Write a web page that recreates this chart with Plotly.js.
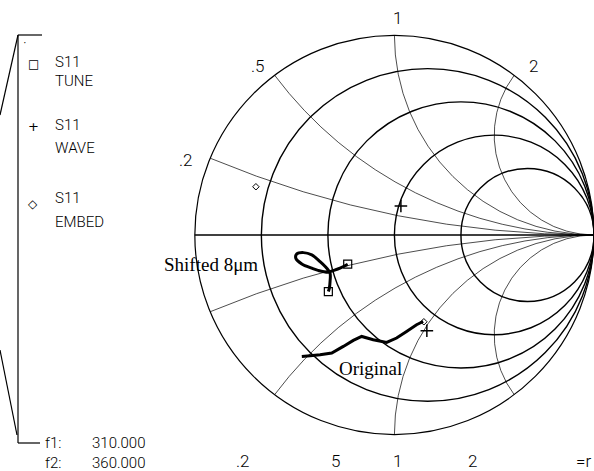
<!DOCTYPE html>
<html>
<head>
<meta charset="utf-8">
<script src="https://cdn.plot.ly/plotly-3.0.1.min.js"></script>
<style>html,body{margin:0;padding:0;background:#fff;}#chart{width:594px;height:471px;}</style>
</head>
<body>
<div id="chart"></div>
<script>
// Reflection coefficient (Gamma) values
const shiftedRe = [-0.234, -0.2725, -0.306, -0.331, -0.3825, -0.414, -0.464, -0.494, -0.489, -0.456, -0.414, -0.3725, -0.339, -0.3225, -0.3225, -0.326, -0.331];
const shiftedIm = [-0.1465, -0.1665, -0.1785, -0.1865, -0.1775, -0.1665, -0.145, -0.1165, -0.095, -0.0885, -0.10, -0.1335, -0.1665, -0.1915, -0.2335, -0.2665, -0.2835];
const originalRe = [-0.464, -0.4225, -0.3725, -0.314, -0.256, -0.206, -0.164, -0.106, -0.039, 0.011, 0.061, 0.111, 0.144];
const originalIm = [-0.6085, -0.605, -0.60, -0.5915, -0.5585, -0.5285, -0.5085, -0.525, -0.5385, -0.5165, -0.4835, -0.45, -0.4335];
const tuneRe = [-0.234, -0.331];
const tuneIm = [-0.1465, -0.2835];
const waveRe = [0.0325, 0.1625];
const waveIm = [0.145, -0.48];
const embedRe = [-0.694, 0.1475];
const embedIm = [0.2415, -0.435];
const realGridVals = [0.2, 0.5, 1, 2];
const imagGridVals = [-2, -1, -0.5, -0.2, 0.2, 0.5, 1, 2];
const topLabels = ['.2', '.5', '1', '2'];
const bottomLabels = ['.2', '5', '1', '2', '=r'];
const legendNames = [['S11', 'TUNE'], ['S11', 'WAVE'], ['S11', 'EMBED']];
const freqNames = ['f1:', 'f2:'];
const freqValues = ['310.000', '360.000'];

function toZ(re, im) {
  const r = [], x = [];
  for (let i = 0; i < re.length; i++) {
    const a = re[i], b = im[i];
    const d = (1 - a) * (1 - a) + b * b;
    r.push((1 - a * a - b * b) / d);
    x.push(2 * b / d);
  }
  return {real: r, imag: x};
}

const zs = toZ(shiftedRe, shiftedIm);
const zo = toZ(originalRe, originalIm);
const zt = toZ(tuneRe, tuneIm);
const zw = toZ(waveRe, waveIm);
const ze = toZ(embedRe, embedIm);

const data = [
  {type: 'scattersmith', mode: 'lines', real: zs.real, imag: zs.imag, line: {color: '#000', width: 3, shape: 'spline'}},
  {type: 'scattersmith', mode: 'lines', real: zo.real, imag: zo.imag, line: {color: '#000', width: 3}},
  {type: 'scattersmith', mode: 'markers', real: zt.real, imag: zt.imag, marker: {symbol: 'square-open', size: 8, color: '#000', line: {width: 1.2}}},
  {type: 'scattersmith', mode: 'markers', real: zw.real, imag: zw.imag, marker: {symbol: 'cross-thin-open', size: 9, color: '#000', line: {width: 1.5}}},
  {type: 'scattersmith', mode: 'markers', real: ze.real, imag: ze.imag, marker: {symbol: 'diamond-open', size: 5, color: '#000', line: {width: 1}}}
];

const W = 594, H = 471;
const px = x => x / W, py = y => 1 - y / H;
const plotFont = {family: 'Roboto, sans-serif', size: 15, color: '#000', weight: 300};
const tickFont = {family: 'Roboto, sans-serif', size: 17, color: '#000', weight: 300};
const annotations = [];
function addText(t, x, y, font, anchor) {
  annotations.push({text: t, x: px(x), y: py(y), xref: 'paper', yref: 'paper', showarrow: false,
    xanchor: anchor || 'center', yanchor: 'middle', font: font || plotFont});
}
// reactance labels along the outer circle
const topPos = [[186, 160], [258, 66], [398, 18], [533, 66]];
topLabels.forEach((t, i) => addText(t, topPos[i][0], topPos[i][1], tickFont));
const botPos = [243, 335, 397, 472, 583];
bottomLabels.forEach((t, i) => addText(t, botPos[i], 461, tickFont));
// legend
const legY = [[62, 81], [125, 148], [198, 222]];
const legSym = ['□', '+', '◇'];
legendNames.forEach((n, i) => {
  addText(legSym[i], 33, legY[i][0] + (i === 2 ? 6 : 2), {family: 'DejaVu Sans', size: i === 1 ? 13 : 12, color: '#000'});
  addText(n[0], 53, legY[i][0], plotFont, 'left');
  addText(n[1], 53, legY[i][1], plotFont, 'left');
});
freqNames.forEach((n, i) => {
  addText(n, 43, 443 + 20 * i, plotFont, 'left');
  addText(freqValues[i], 90, 443 + 20 * i, plotFont, 'left');
});
addText('·', 25, 43, plotFont);
// curve labels
const serif = {family: 'Liberation Serif, serif', size: 19, color: '#000'};
addText('Shifted 8μm', 211, 264, serif);
addText('Original', 370, 368, serif);

const lineSeg = (x0, y0, x1, y1) => ({type: 'line', xref: 'paper', yref: 'paper', x0: px(x0), y0: py(y0), x1: px(x1), y1: py(y1), line: {color: '#000', width: 1.2}});
const shapes = [
  lineSeg(18, 35, 42, 35),
  lineSeg(18, 35, 18, 443),
  lineSeg(18, 443, 40, 443),
  lineSeg(18, 35, 0, 115),
  lineSeg(17, 435, 0, 350)
];

const layout = {
  width: W, height: H,
  margin: {l: 0, r: 0, t: 0, b: 0},
  paper_bgcolor: '#fff',
  showlegend: false,
  smith: {
    domain: {x: [0.328, 1.0], y: [0.0773, 0.925]},
    bgcolor: 'rgba(0,0,0,0)',
    realaxis: {tickvals: realGridVals, showticklabels: false, ticks: '', showgrid: true, gridcolor: '#000', gridwidth: 1.4, showline: true, linecolor: '#000', linewidth: 1.6},
    imaginaryaxis: {tickvals: imagGridVals, showticklabels: false, ticks: '', showgrid: true, gridcolor: '#000', gridwidth: 0.7, showline: true, linecolor: '#000', linewidth: 1.2}
  },
  annotations: annotations,
  shapes: shapes
};

Plotly.newPlot('chart', data, layout, {staticPlot: true});
</script>
</body>
</html>
